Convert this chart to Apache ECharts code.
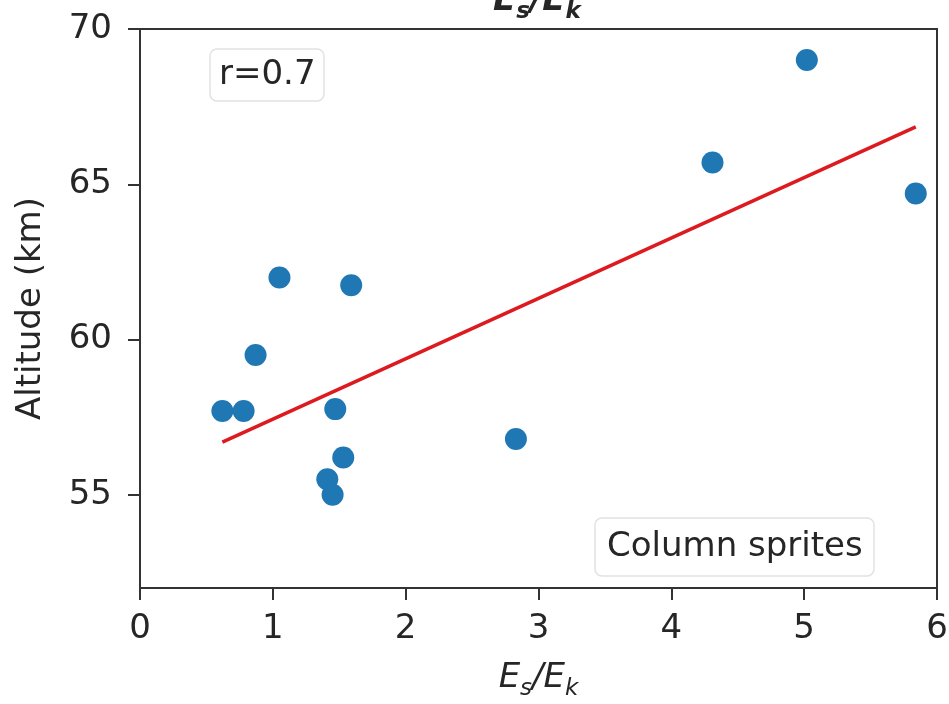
<!DOCTYPE html>
<html>
<head>
<meta charset="utf-8">
<script src="https://cdn.jsdelivr.net/npm/echarts@6/dist/echarts.min.js"></script>
<style>
html,body{margin:0;padding:0;background:#fff}
#main{width:949px;height:704px}
</style>
</head>
<body>
<div id="main"></div>
<script>
// sprite points
var ratio = [0.62, 0.78, 0.87, 1.05, 1.59, 1.47, 1.53, 1.41, 1.45, 2.83, 4.31, 5.02, 5.84];
var altitude = [57.7, 57.7, 59.5, 62.0, 61.75, 57.76, 56.2, 55.5, 55.0, 56.8, 65.7, 69.0, 64.7];
// fitted line ends
var fitX = [0.62, 5.84];
var fitY = [56.7, 66.85];
var yTicks = [55, 60, 65, 70];

var font = 'DejaVu Sans';
var ink = '#262626';
var fs = 34;

// E_s/E_k as rich text
var esek = '{i|E}{s|s}{i|/E}{s|k}';
var esekRich = {
	i: {fontFamily: font, fontStyle: 'italic', fontSize: fs, color: ink, lineHeight: 40, verticalAlign: 'top'},
	s: {fontFamily: font, fontStyle: 'italic', fontSize: 23, color: ink, lineHeight: 40, verticalAlign: 'bottom', padding: [15, 0, 0, 0]}
};

var pts = [];
for (var i = 0; i < ratio.length; i++) pts.push([ratio[i], altitude[i]]);
var fit = [];
for (var j = 0; j < fitX.length; j++) fit.push([fitX[j], fitY[j]]);

var myChart = echarts.init(document.getElementById('main'));
var option = {
	animation: false,
	title: [
		{
			text: 'r=0.7', left: 210, top: 49,
			padding: [6, 9, 6, 9],
			borderColor: '#e2e2e2', borderWidth: 1.5, borderRadius: 7,
			backgroundColor: '#fff',
			textStyle: {fontFamily: font, fontSize: fs, lineHeight: 40, fontWeight: 'normal', color: ink}
		},
		{
			text: 'Column sprites', left: 595, top: 518,
			padding: [9, 12, 9, 12],
			borderColor: '#e2e2e2', borderWidth: 1.5, borderRadius: 7,
			backgroundColor: '#fff',
			textStyle: {fontFamily: font, fontSize: fs, lineHeight: 40, fontWeight: 'normal', color: ink}
		},
		{
			// top title, cut off by the picture edge
			text: esek, left: 493, top: -16, padding: 0,
			textStyle: {rich: esekRich}
		}
	],
	grid: {
		left: 140, right: 12, top: 29, bottom: 116,
		outerBoundsMode: 'none',
		show: true, borderColor: '#333', borderWidth: 2
	},
	xAxis: {
		type: 'value', min: 0, max: 6, interval: 1,
		name: esek, nameLocation: 'middle', nameGap: 73,
		nameTextStyle: {rich: esekRich},
		axisLine: {show: true, lineStyle: {color: '#333', width: 2}},
		axisTick: {show: true, length: 12, lineStyle: {color: '#333', width: 2}},
		axisLabel: {fontFamily: font, fontSize: fs, color: ink, margin: 24},
		splitLine: {show: false}
	},
	yAxis: {
		type: 'value', min: 52, max: 70,
		name: 'Altitude (km)', nameLocation: 'middle', nameGap: 92,
		nameTextStyle: {fontFamily: font, fontSize: fs, color: ink},
		axisLine: {show: true, lineStyle: {color: '#333', width: 2}},
		axisTick: {show: true, length: 12, customValues: yTicks, lineStyle: {color: '#333', width: 2}},
		axisLabel: {fontFamily: font, fontSize: fs, color: ink, margin: 28, customValues: yTicks},
		splitLine: {show: false}
	},
	series: [
		{
			type: 'line', data: fit, symbol: 'none', z: 2,
			lineStyle: {color: '#dc1a1f', width: 3.5}
		},
		{
			type: 'scatter', data: pts, symbolSize: 22, z: 3,
			itemStyle: {color: '#1f77b4', opacity: 1}
		}
	]
};
myChart.setOption(option);
</script>
</body>
</html>
